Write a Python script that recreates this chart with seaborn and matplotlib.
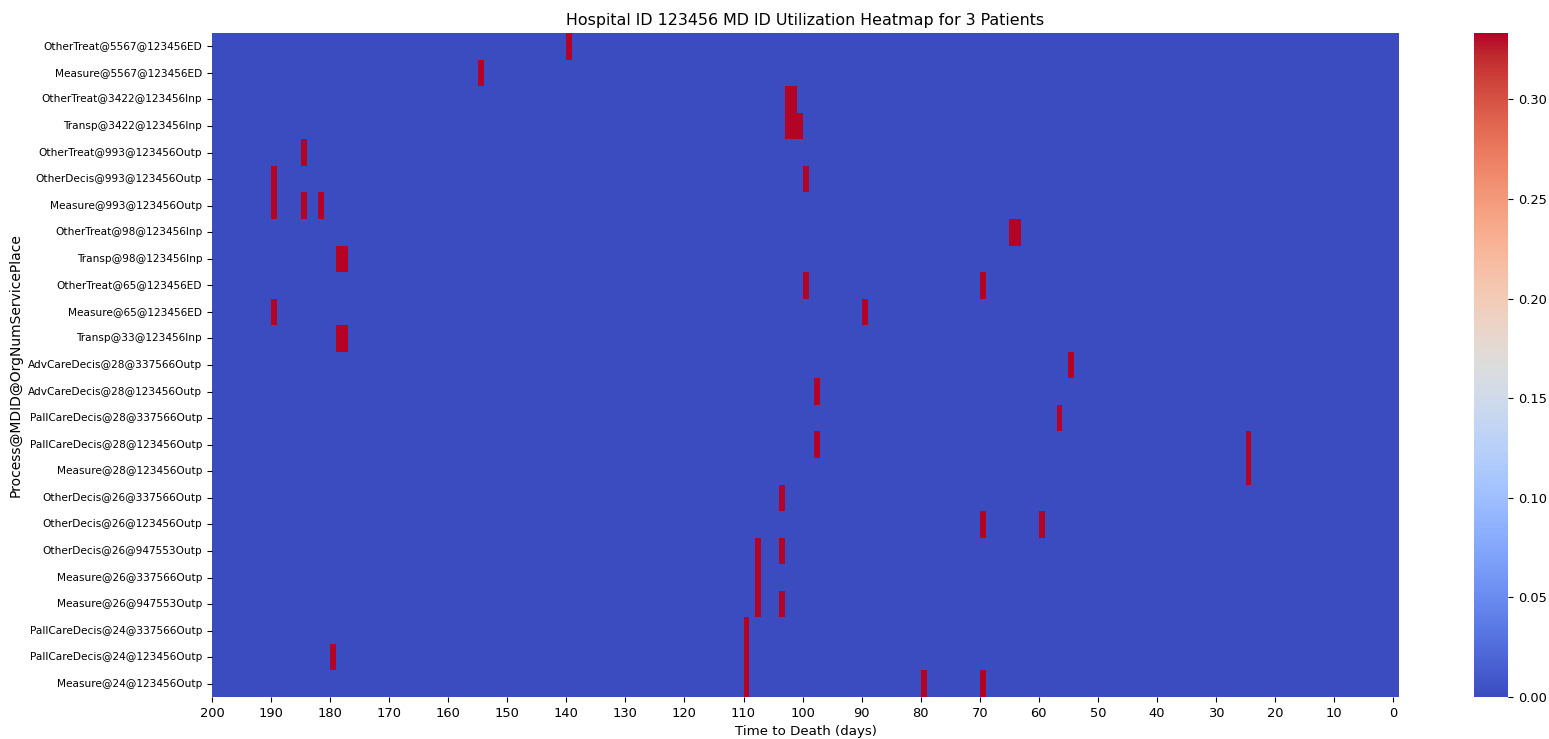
import numpy as np
import pandas as pd
import matplotlib
matplotlib.use("Agg")
import matplotlib.pyplot as plt
import seaborn as sns

# Number of patients the utilization is averaged over
n_patients = 3

# Row labels: Process@MDID@OrgNumServicePlace
row_labels = [
    "OtherTreat@5567@123456ED",
    "Measure@5567@123456ED",
    "OtherTreat@3422@123456Inp",
    "Transp@3422@123456Inp",
    "OtherTreat@993@123456Outp",
    "OtherDecis@993@123456Outp",
    "Measure@993@123456Outp",
    "OtherTreat@98@123456Inp",
    "Transp@98@123456Inp",
    "OtherTreat@65@123456ED",
    "Measure@65@123456ED",
    "Transp@33@123456Inp",
    "AdvCareDecis@28@337566Outp",
    "AdvCareDecis@28@123456Outp",
    "PallCareDecis@28@337566Outp",
    "PallCareDecis@28@123456Outp",
    "Measure@28@123456Outp",
    "OtherDecis@26@337566Outp",
    "OtherDecis@26@123456Outp",
    "OtherDecis@26@947553Outp",
    "Measure@26@337566Outp",
    "Measure@26@947553Outp",
    "PallCareDecis@24@337566Outp",
    "PallCareDecis@24@123456Outp",
    "Measure@24@123456Outp",
]

# Days before death on which each row was used (one patient per entry)
event_days = [
    [140],
    [155],
    [103, 102],
    [103, 102, 101],
    [185],
    [190, 100],
    [190, 185, 182],
    [65, 64],
    [179, 178],
    [100, 70],
    [190, 90],
    [179, 178],
    [55],
    [98],
    [57],
    [98, 25],
    [25],
    [104],
    [70, 60],
    [108, 104],
    [108],
    [108, 104],
    [110],
    [180, 110],
    [110, 80, 70],
]

# Day axis runs from 200 days before death down to the day of death
days = list(range(200, -1, -1))
tick_days = list(range(200, -1, -10))

counts = pd.DataFrame(0.0, index=row_labels, columns=days)
for label, ds in zip(row_labels, event_days):
    for d in ds:
        counts.loc[label, d] += 1
util = counts / n_patients

fig = plt.figure(figsize=(15.49, 7.39), dpi=100)
ax = fig.add_axes([0.1369, 0.0568, 0.7663, 0.8985])
cax = fig.add_axes([0.9516, 0.0568, 0.0219, 0.8985])

sns.heatmap(util, cmap="coolwarm", vmin=0, ax=ax, cbar_ax=cax,
            xticklabels=True, yticklabels=True)

ax.set_xticks([days.index(d) for d in tick_days])
ax.set_xticklabels([str(d) for d in tick_days], rotation=0, fontsize=9.4)
ax.set_yticklabels(row_labels, rotation=0, fontsize=7.6)
ax.set_xlabel("Time to Death (days)", fontsize=9.6)
ax.set_ylabel("Process@MDID@OrgNumServicePlace", fontsize=10)
ax.set_title("Hospital ID 123456 MD ID Utilization Heatmap for 3 Patients", fontsize=11.4)

cax.tick_params(labelsize=9.4)

fig.savefig("out.png", dpi=100)
